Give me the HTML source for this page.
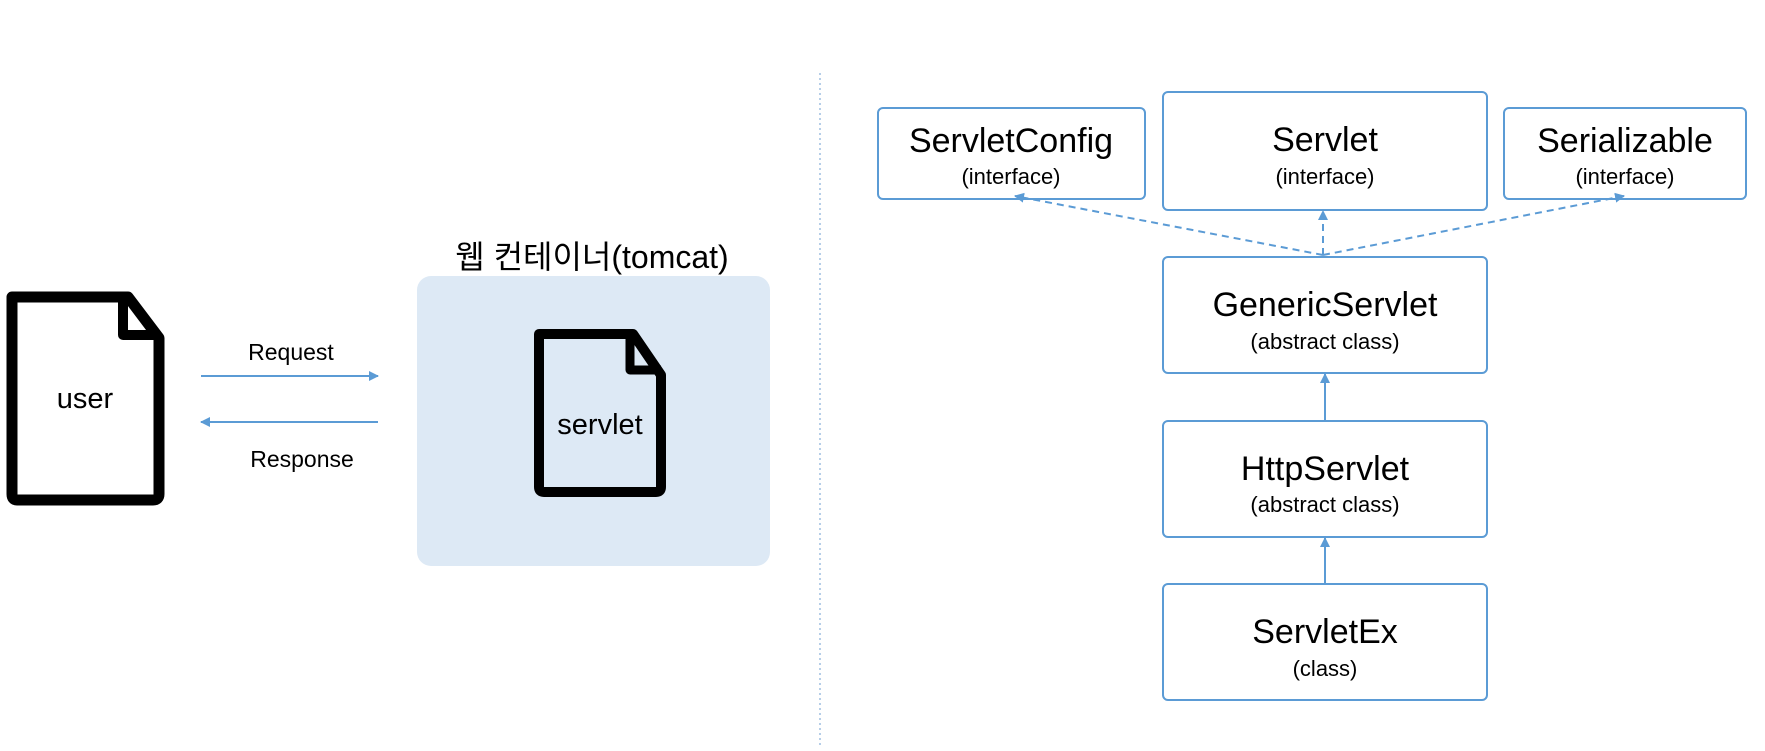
<!DOCTYPE html>
<html><head><meta charset="utf-8"><style>
body{margin:0;background:#fff;width:1765px;height:746px;overflow:hidden;font-family:"Liberation Sans","Noto Sans CJK KR",sans-serif}
</style></head><body>
<svg width="1765" height="746" xmlns="http://www.w3.org/2000/svg" font-family="Liberation Sans, Noto Sans CJK KR, sans-serif">
<defs>
<marker id="a" markerWidth="10" markerHeight="10" refX="9" refY="5" orient="auto" markerUnits="userSpaceOnUse"><path d="M0,0 L10,5 L0,10 z" fill="#5b9bd5"/></marker>
</defs>
<line x1="820" y1="73" x2="820" y2="746" stroke="#9dbde0" stroke-width="1.5" stroke-dasharray="2,3"/>
<!-- user doc -->
<path d="M12,297 H128 L159,338 V494 Q159,500 153,500 H17 Q12,500 12,494 Z" fill="#fff" stroke="#000" stroke-width="11" stroke-linejoin="round"/>
<path d="M123,297 V335 H159" fill="none" stroke="#000" stroke-width="10" stroke-linejoin="round"/>
<text x="85" y="408" font-size="29" text-anchor="middle">user</text>
<text x="291" y="360" font-size="23" text-anchor="middle">Request</text>
<line x1="201" y1="376" x2="378" y2="376" stroke="#5b9bd5" stroke-width="2" marker-end="url(#a)"/>
<line x1="378" y1="422" x2="201" y2="422" stroke="#5b9bd5" stroke-width="2" marker-end="url(#a)"/>
<text x="302" y="467" font-size="23" text-anchor="middle">Response</text>
<rect x="417" y="276" width="353" height="290" rx="14" fill="#dde9f5"/>
<text x="592" y="268" font-size="32" text-anchor="middle">웹 컨테이너(tomcat)</text>
<path d="M539,334 H633 L661,375 V487 Q661,492 656,492 H544 Q539,492 539,487 Z" fill="none" stroke="#000" stroke-width="10" stroke-linejoin="round"/>
<path d="M630,334 V370 H661" fill="none" stroke="#000" stroke-width="9" stroke-linejoin="round"/>
<text x="600" y="434" font-size="29" text-anchor="middle">servlet</text>
<!-- right -->
<g fill="#fff" stroke="#5b9bd5" stroke-width="2">
<rect x="878" y="108" width="267" height="91" rx="5"/>
<rect x="1163" y="92" width="324" height="118" rx="5"/>
<rect x="1504" y="108" width="242" height="91" rx="5"/>
<rect x="1163" y="257" width="324" height="116" rx="5"/>
<rect x="1163" y="421" width="324" height="116" rx="5"/>
<rect x="1163" y="584" width="324" height="116" rx="5"/>
</g>
<g text-anchor="middle">
<text x="1011" y="152" font-size="34">ServletConfig</text><text x="1011" y="184" font-size="22">(interface)</text>
<text x="1325" y="151" font-size="34">Servlet</text><text x="1325" y="184" font-size="22">(interface)</text>
<text x="1625" y="152" font-size="34">Serializable</text><text x="1625" y="184" font-size="22">(interface)</text>
<text x="1325" y="316" font-size="34">GenericServlet</text><text x="1325" y="349" font-size="22">(abstract class)</text>
<text x="1325" y="480" font-size="34">HttpServlet</text><text x="1325" y="512" font-size="22">(abstract class)</text>
<text x="1325" y="643" font-size="34">ServletEx</text><text x="1325" y="676" font-size="22">(class)</text>
</g>
<g stroke="#5b9bd5" stroke-width="2" stroke-dasharray="7,5" fill="none">
<line x1="1323" y1="255" x2="1015" y2="196" marker-end="url(#a)"/>
<line x1="1323" y1="255" x2="1323" y2="211" marker-end="url(#a)"/>
<line x1="1323" y1="255" x2="1624" y2="196" marker-end="url(#a)"/>
</g>
<line x1="1325" y1="421" x2="1325" y2="374" stroke="#5b9bd5" stroke-width="2" marker-end="url(#a)"/>
<line x1="1325" y1="584" x2="1325" y2="538" stroke="#5b9bd5" stroke-width="2" marker-end="url(#a)"/>
</svg>
</body></html>
